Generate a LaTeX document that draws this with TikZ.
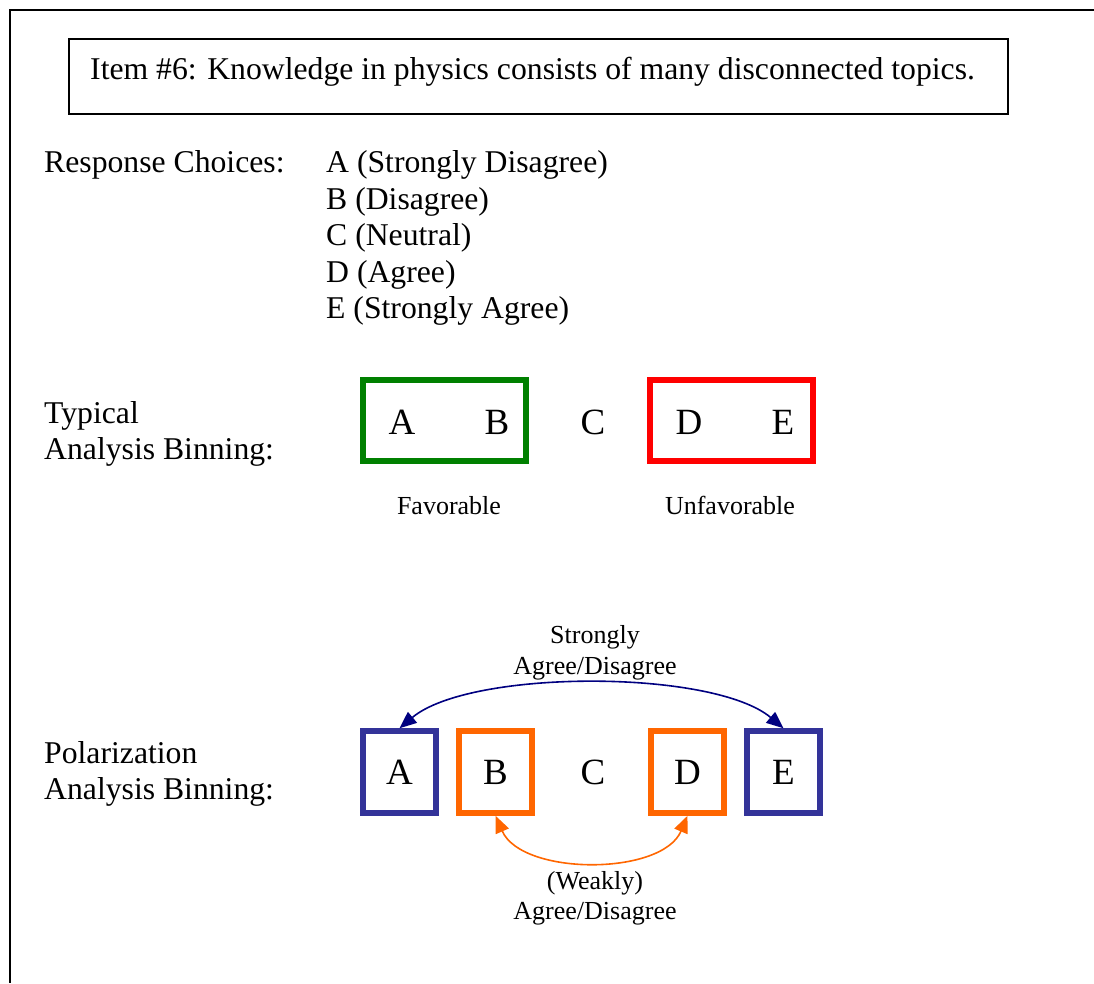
\documentclass[tikz,border=0pt]{standalone}
\usepackage{fontspec}
\setmainfont{Liberation Serif}
\usetikzlibrary{positioning, arrows.meta}

\definecolor{favgreen}{RGB}{0,128,0}
\definecolor{unfavred}{RGB}{255,0,0}
\definecolor{polblue}{RGB}{51,51,153}
\definecolor{polorange}{RGB}{255,102,0}
\definecolor{arcnavy}{RGB}{0,0,128}

\tikzset{
	bigtxt/.style={inner sep=0pt, font=\fontsize{31.7}{37}\selectfont},
	smalltxt/.style={inner sep=0pt, font=\fontsize{26}{31}\selectfont},
	letter/.style={inner sep=0pt, font=\fontsize{37}{40}\selectfont},
	binbox/.style={draw=#1, line width=6pt, inner sep=0pt, minimum height=81pt},
	polbox/.style={draw=#1, line width=5.5pt, inner sep=0pt, minimum width=73pt, minimum height=82pt, font=\fontsize{37}{40}\selectfont},
	arc/.style={draw=#1, line width=1.6pt, {Triangle[length=17pt,width=14pt]}-{Triangle[length=17pt,width=14pt]}}
}

\begin{document}
\begin{tikzpicture}[x=1pt, y=-1pt]
	\useasboundingbox (0,0) rectangle (1094,983);
	% ---- frame and item ----
	\draw[line width=2pt] (1094,10) -- (10,10) -- (10,983);
	\node[draw, line width=2pt, minimum width=939pt, minimum height=75pt] (itemBox) at (538,76) {};
	\node[bigtxt, anchor=base west] (itemTxt) at (90,79) {Item \#6: Knowledge in physics consists of many disconnected topics.};
	% ---- response choices ----
	\node[bigtxt, anchor=base west] (respLbl) at (44,172.5) {Response Choices:};
	\foreach \ltr/\txt [count=\i] in {A/Strongly Disagree, B/Disagree, C/Neutral, D/Agree, E/Strongly Agree}{
		\node[bigtxt, anchor=base west] (choice\ltr) at (326,{172.5+36.5*(\i-1)}) {\ltr\ (\txt)};
	}
	% ---- typical binning ----
	\node[bigtxt, anchor=base west] (typL1) at (44,423) {Typical};
	\node[bigtxt, anchor=base west] (typL2) at (44,459) {Analysis Binning:};
	\node[binbox=favgreen, minimum width=163pt] (favBox) at (444.5,420.5) {};
	\node[binbox=unfavred, minimum width=163pt] (unfavBox) at (731.5,420.5) {};
	\foreach \ltr/\xx in {A/402, B/497, C/593, D/689, E/783}{
		\node[letter, anchor=base] (t\ltr) at (\xx,434) {\ltr};
	}
	\node[smalltxt, anchor=base] (favLbl) at (449,514) {Favorable};
	\node[smalltxt, anchor=base] (unfavLbl) at (730,514) {Unfavorable};
	% ---- polarization binning ----
	\node[bigtxt, anchor=base west] (polL1) at (44,763) {Polarization};
	\node[bigtxt, anchor=base west] (polL2) at (44,799) {Analysis Binning:};
	\node[polbox=polblue] (pA) at (399.5,772) {A};
	\node[polbox=polorange] (pB) at (495.5,772) {B};
	\node[letter] (pC) at (593,772) {C};
	\node[polbox=polorange] (pD) at (687.5,772) {D};
	\node[polbox=polblue] (pE) at (783.5,772) {E};
	\draw[arc=arcnavy] (pA.north) .. controls (470,669) and (713,669) .. (pE.north);
	\draw[arc=polorange] (pB.south) .. controls (522,876) and (662,876) .. (pD.south);
	\node[smalltxt, anchor=base] (strongL1) at (595,643) {Strongly};
	\node[smalltxt, anchor=base] (strongL2) at (595,674) {Agree/Disagree};
	\node[smalltxt, anchor=base] (weakL1) at (595,889) {(Weakly)};
	\node[smalltxt, anchor=base] (weakL2) at (595,919) {Agree/Disagree};
\end{tikzpicture}
\end{document}
